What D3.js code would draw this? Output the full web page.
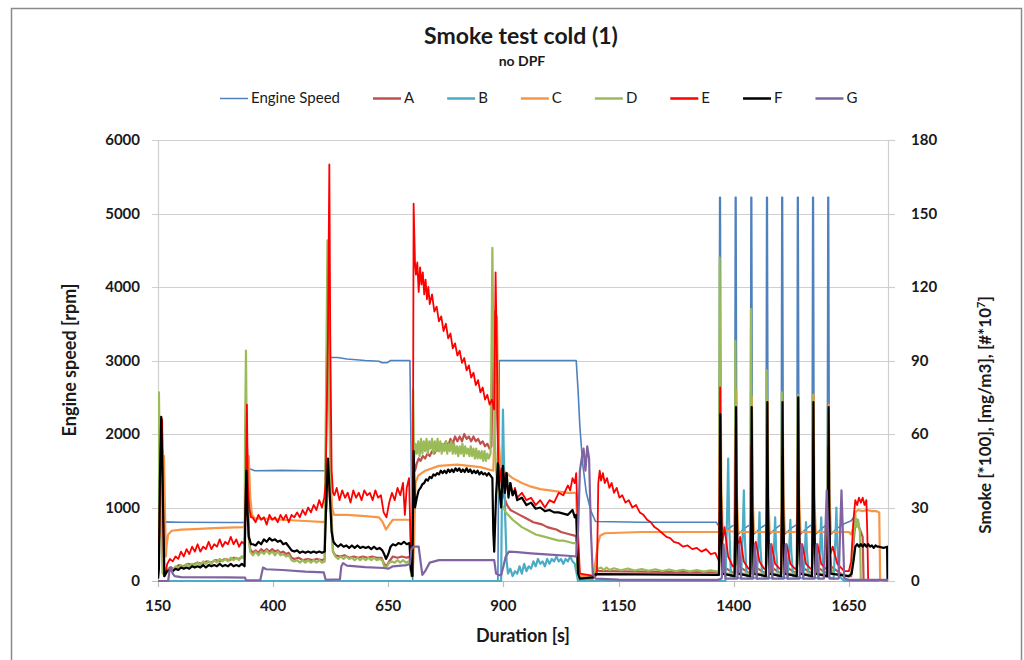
<!DOCTYPE html>
<html><head><meta charset="utf-8">
<script src="https://cdn.jsdelivr.net/npm/d3@7"></script>
<style>
body{margin:0;background:#fff;}
svg{display:block;font-family:Lato,"Liberation Sans",sans-serif;}
</style>
</head><body>
<svg id="chart" width="1024" height="660"></svg>
<script>
// ---------------- DATA ----------------
const chartTitle = "Smoke test cold (1)";
const chartSubtitle = "no DPF";
const xTitle = "Duration [s]";
const yLeftTitle = "Engine speed [rpm]";
const yRightTitle = "Smoke [*100], [mg/m3], [#*10⁷]";
const xTicks = [150, 400, 650, 900, 1150, 1400, 1650];
const yLeftTicks = [0, 1000, 2000, 3000, 4000, 5000, 6000];
const yRightTicks = [0, 30, 60, 90, 120, 150, 180];
const seriesNames = ["Engine Speed", "A", "B", "C", "D", "E", "F", "G"];

// Engine speed [rpm] (left axis) : [time s, rpm]
const engineSpeed = [[150,800],[160,805],[200,800],[300,795],[339,795],[341,1540],[352,1520],[360,1500],[420,1505],[480,1500],[514,1500],[517,3040],[540,3040],[560,3020],[600,3000],[630,2990],[636,2970],[648,2970],[655,3000],[697,3000],[700,1500],[703,0],[888,0],[891,3000],[950,3000],[1058,3000],[1062,2600],[1066,2100],[1072,1600],[1080,1200],[1090,950],[1100,810],[1200,800],[1362,800],[1366,760],
[1368,780],[1369.5,5220],[1371,5220],[1373,620],[1380,660],[1390,720],[1400,760],[1402,770],
[1403.5,5220],[1405,5220],[1407,620],[1414,660],[1424,720],[1434,760],[1436,770],
[1437.5,5220],[1439,5220],[1441,620],[1448,660],[1458,720],[1468,760],[1470,770],
[1471.5,5220],[1473,5220],[1475,620],[1482,660],[1492,720],[1501,760],[1503,770],
[1504.5,5220],[1506,5220],[1508,620],[1515,660],[1525,720],[1535,760],[1537,770],
[1538.5,5220],[1540,5220],[1542,620],[1549,660],[1559,720],[1568,760],[1570,770],
[1571.5,5220],[1573,5220],[1575,620],[1582,660],[1592,720],[1601,760],[1603,770],
[1604.5,5220],[1606,5220],[1608,620],[1615,660],[1625,720],[1640,780],[1655,820],[1660,860]];

// Smoke series (right axis) : [time s, value]
const seriesA = [[150,1],[152,20],[155,60],[158,66],[161,40],[163,2],[166,3],[170,4.5],[176,5.5],[185,5],[195,6.5],[205,6],[215,7],[225,6.5],[235,7.5],[245,7],[255,8],[265,7.5],[275,8.5],[285,8],[295,9],[305,8.5],[315,9.5],[325,9],[335,10],[338,10],
[340,40],[342,62],[344,50],[347,20],[350,13],[356,11.5],[362,12.5],[368,11.5],[374,13],[380,12],[386,13],[392,12],[398,13],[404,12],[410,12.5],[416,11.5],[422,12],[428,11],[434,11.5],[440,9.5],[446,9],[455,9.5],[465,8.5],[475,9],[485,8.5],[495,9],[505,8.5],[512,9],
[515,60],[519,125],[522,80],[526,30],[530,12],[535,10.5],[545,10],[555,10.5],[565,9.5],[575,10],[585,9.5],[595,10],[605,9.5],[615,10],[625,9.5],[635,9.5],[641,7],[646,6],[652,8],[660,10],[670,9.5],[680,10],[690,9.5],[696,10],
[700,3],[703,2],[705,50],[708,45],[712,48],[716,50],[720,49],[725,51],[730,50],[735,52],[740,51],[745,53],[750,52],[755,54],[760,53],[765,56],[770,54],[775,57],[780,55],[785,58],[790,56],[795,59],[800,57],[805,59],[810,57],[815,60],[820,58],[825,59],[830,57],[835,59],[840,57],[845,58],[850,56],[855,57],[860,55],[865,56],[870,54],[874,55],
[877,90],[881,110],[885,80],[889,50],[893,44],[897,38],[902,34],[908,31],[915,29],[925,28],[935,27],[945,26],[955,25],[965,24],[975,23.5],[985,23],[995,22],[1005,21.5],[1015,21],[1025,20],[1035,19.5],[1045,19],[1055,18.5],[1058,18],[1062,3],[1066,1],[1095,1],
[1100,4.5],[1110,4],[1200,3.8],[1300,3.6],[1365,3.5],
[1368,3],[1370,80],[1372,20],[1376,6],[1402,3],[1404,70],[1406,18],[1410,6],[1436,3],[1438,66],[1440,18],[1444,6],[1470,3],[1472,64],[1474,18],[1478,6],[1503,3],[1505,62],[1507,18],[1511,6],[1537,3],[1539,64],[1541,18],[1545,6],[1570,3],[1572,62],[1574,18],[1578,6],[1603,3],[1605,60],[1607,18],[1611,6],[1640,2],[1655,2],
[1660,15],[1664,24],[1668,25],[1672,22],[1676,20],[1680,18],[1682,0]];

const seriesB = [[150,0],[895,0],[897,40],[899,70],[901,50],[904,25],[907,8],[910,3],[915,5],[920,2],[925,4],[930,3],[935,6],[940,3],[945,7],[950,4],[955,6],[960,5],[965,8],[970,6],[975,9],[980,7],[985,8],[990,6],[995,9],[1000,7],[1005,9],[1010,8],[1015,10],[1020,8],[1025,9],[1030,7],[1035,9],[1040,8],[1045,10],[1050,8],[1055,7],[1059,3],[1062,0],
[1382,0],[1386,30],[1388,50],[1390,25],[1394,2],[1416,1],[1420,22],[1422,37],[1424,18],[1428,2],[1450,1],[1454,17],[1456,28],[1458,14],[1462,2],[1484,1],[1488,16],[1490,26],[1492,13],[1496,2],[1517,1],[1521,15],[1523,25],[1525,12],[1529,2],[1551,1],[1555,14],[1557,24],[1559,12],[1563,2],[1584,1],[1588,16],[1590,26],[1592,13],[1596,2],[1617,1],[1621,18],[1623,30],[1625,15],[1629,2],[1640,0],[1735,0]];

const seriesC = [[150,17],[152,16],[156,30],[160,45],[163,51],[165,30],[167,10],[169,15],[172,19],[180,20.5],[200,21],[230,21.2],[260,21.5],[300,21.8],[338,22],
[341,30],[344,45],[347,51],[350,35],[354,27],[360,25.5],[380,25.5],[420,25],[470,24.5],[512,24],
[516,30],[520,40],[524,45],[528,30],[532,27],[560,27],[600,26.5],[630,26],[638,24],[645,21],[652,23],[660,25],[697,25],
[700,10],[703,3],[706,15],[709,40],[715,43],[730,45],[760,47],[800,47.5],[850,46.5],[878,45],
[882,70],[886,108],[889,60],[893,48],[900,45],[920,42],[940,40],[960,38.5],[980,37.5],[1000,37],[1020,36.5],[1040,36],[1058,36],[1062,10],[1066,2],[1095,2],[1100,8],[1105,15],[1110,18.5],[1120,19.5],[1200,20],[1300,20],[1366,20],
[1368,20],[1370,40],[1371.5,90],[1373,40],[1376,21],[1402,20],[1404,40],[1405.5,78],[1407,35],[1410,20],[1436,20],[1438,40],[1439.5,75],[1441,35],[1444,20],[1470,20],[1472,40],[1473.5,74],[1475,35],[1478,20],[1503,20],[1505,40],[1506.5,73],[1508,35],[1511,20],[1537,20],[1539,40],[1540.5,75],[1542,35],[1545,20],[1570,20],[1572,40],[1573.5,76],[1575,35],[1578,20],[1603,20],[1605,40],[1606.5,72],[1608,35],[1611,20],[1650,20],[1655,19],
[1660,22],[1664,28],[1670,29],[1680,28.5],[1690,29],[1700,28.5],[1710,28.5],[1716,28],[1718,0],[1724,0]];

const seriesD = [[150,2],[151,40],[152,77],[154,50],[157,20],[160,3],[165,3],[170,4],[176,5],[182,4.5],[188,6],[194,5],[200,6.5],[206,5.5],[212,7],[218,6],[224,7],[230,6.5],[236,7.5],[242,6.5],[248,8],[254,7],[260,8],[266,7],[272,8.5],[278,7.5],[284,9],[290,8],[296,9],[302,8],[308,9.5],[314,8.5],[320,9.5],[326,8.5],[332,10],[338,9],
[339,60],[341,94],[343,50],[346,20],[350,12],[356,10.5],[362,12],[368,10.5],[374,12],[380,11],[386,12.5],[392,11],[398,12],[404,10.5],[410,12],[416,10.5],[422,11],[428,10],[434,10.5],[440,8.5],[446,8],[452,8.5],[458,7.5],[464,8.5],[470,7.5],[476,8.5],[482,7.5],[488,8.5],[494,7.5],[500,8.5],[506,7.5],[512,8],
[514,60],[518,139],[521,90],[525,30],[530,12],[535,10],[541,9],[547,10],[553,9],[559,10],[565,9],[571,9.5],[577,8.5],[583,9.5],[589,8.5],[595,9.5],[601,8.5],[607,9.5],[613,8.5],[619,9.5],[625,8.5],[631,9],[637,8.5],[641,6],[646,5.5],[652,7.5],[658,8],[664,7.5],[670,8.5],[676,7.5],[682,8.5],[688,7.5],[694,8],[697,8],
[700,2],[702,30],[704,78],[706,50],[709,56],[712,52],[715,57],[718,51],[721,58],[724,52],[727,57],[730,53],[733,58],[736,52],[739,57],[742,54],[745,58],[748,52],[751,57],[754,53],[757,58],[760,53],[763,57],[766,52],[769,56],[772,53],[775,57],[778,52],[781,56],[784,53],[787,57],[790,52],[793,56],[796,52],[799,55],[802,51],[805,55],[808,52],[811,56],[814,51],[817,55],[820,52],[823,54],[826,51],[829,55],[832,51],[835,54],[838,50],[841,54],[844,50],[847,53],[850,50],[853,53],[856,49],[859,53],[862,49],[865,52],[868,50],[872,52],
[874,90],[876,136],[878,100],[881,60],[884,45],[888,38],[892,35],[896,31],[900,30],[905,28],[910,27],[915,26],[920,25],[930,23.5],[940,22],[950,21],[960,20],[970,19],[980,18.5],[990,18],[1000,17.5],[1010,17],[1020,16.5],[1030,16.5],[1040,16],[1050,15.5],[1058,15.5],[1062,2],[1066,1],[1095,1.5],
[1100,6],[1106,5],[1112,5.5],[1118,4.5],[1124,5.5],[1130,4.5],[1140,5.2],[1155,4.4],[1170,5.1],[1185,4.3],[1200,4.9],[1215,4.2],[1230,4.8],[1245,4.1],[1260,4.7],[1275,4],[1290,4.6],[1305,3.9],[1320,4.5],[1335,3.8],[1350,4.4],[1365,3.8],
[1368,4],[1369.5,132],[1371,60],[1374,8],[1380,3],[1402,3],[1403.5,98],[1405,45],[1408,7],[1414,3],[1436,3],[1437.5,111],[1439,50],[1442,7],[1448,3],[1470,3],[1471.5,86],[1473,40],[1476,7],[1482,3],[1503,3],[1504.5,77],[1506,35],[1509,7],[1515,3],[1537,3],[1538.5,76],[1540,35],[1543,7],[1549,3],[1570,3],[1571.5,76],[1573,35],[1576,7],[1582,3],[1603,3],[1604.5,71],[1606,33],[1609,7],[1615,3],[1650,2],[1656,3],
[1660,18],[1664,27],[1667,22],[1670,25],[1674,20],[1676,0]];

const seriesE = [[150,2],[153,20],[156,55],[159,66],[161,30],[163,2],[166,3],[170,7],[176,9],[182,8],[188,10],[194,9],[200,12],[206,10],[212,13],[218,11],[224,14],[230,12],[236,15],[242,12],[248,14],[254,13],[260,16],[266,13],[272,15],[278,14],[284,17],[290,14],[296,16],[302,15],[308,18],[314,15],[320,17],[326,14],[332,16],[338,15],
[340,30],[343,72],[345,40],[348,30],[352,26],[355,26],[362,24],[368,27],[374,25],[380,26],[386,23],[392,27],[398,25],[404,26],[410,24],[416,27],[422,25],[428,27],[434,24],[440,27],[446,26],[452,28],[458,26],[464,29],[470,27],[476,30],[482,28],[488,31],[494,29],[500,33],[506,30],[511,34],
[514,40],[519,100],[522,170],[524,100],[527,45],[530,36],[533,35],[538,38],[544,33],[550,37],[556,34],[562,36],[568,32],[574,37],[580,34],[586,36],[592,33],[598,37],[604,35],[610,36],[616,33],[622,37],[628,34],[634,35],[640,28],[646,26],[652,32],[658,36],[664,33],[670,38],[676,35],[682,40],[686,27],[690,38],[695,42],
[698,20],[700,5],[703,2],[705,154],[708,130],[710,125],[713,130],[716,118],[719,128],[722,121],[725,126],[728,117],[731,123],[734,115],[737,120],[740,113],[745,117],[750,110],[755,112],[760,106],[765,108],[770,102],[775,105],[780,99],[785,101],[790,95],[795,97],[800,92],[805,94],[810,89],[815,91],[820,86],[825,88],[830,83],[835,85],[840,80],[845,82],[850,77],[855,79],[860,74],[865,76],[870,72],[875,74],[880,70],
[883,126],[886,90],[889,45],[891,40],[896,46],[900,38],[905,44],[910,36],[915,40],[920,35],[925,38],[930,34],[940,36],[950,33],[960,34],[970,31],[980,33],[990,30],[1000,33],[1010,32],[1020,36],[1030,35],[1040,39],[1045,37],[1050,42],[1055,40],[1058,44],[1062,20],[1066,3],[1100,2],[1103,3],
[1106,40],[1109,45],[1112,41],[1116,44],[1120,40],[1125,42],[1130,38],[1135,40],[1140,36],[1146,38],[1152,34],[1158,35],[1165,32],[1172,33],[1180,30],[1188,31],[1196,28],[1204,27],[1212,25],[1220,24],[1228,22],[1236,21],[1245,19.5],[1254,18],[1262,17.5],[1270,16],[1280,15.5],[1290,14],[1300,14.5],[1310,13],[1320,13.5],[1330,12],[1340,13],[1350,11],[1360,11.5],[1366,9],
[1368,8],[1370.5,79],[1372,40],[1375,15],[1380,22],[1388,10],[1398,6],[1402,6],[1404.5,63],[1406,30],[1409,12],[1414,18],[1422,8],[1432,5],[1436,5],[1438.5,55],[1440,28],[1443,12],[1448,16],[1456,8],[1466,5],[1470,5],[1472.5,51],[1474,26],[1477,11],[1482,15],[1490,7],[1500,5],[1503,5],[1505.5,51],[1507,26],[1510,11],[1515,15],[1523,7],[1533,5],[1537,5],[1539.5,57],[1541,28],[1544,11],[1549,15],[1557,7],[1567,5],[1570,5],[1572.5,56],[1574,28],[1577,11],[1582,15],[1590,7],[1600,5],[1603,5],[1605.5,55],[1607,28],[1610,11],[1615,14],[1625,7],[1640,4],[1650,4],[1655,8],
[1660,25],[1664,33],[1668,31],[1672,34],[1676,32],[1680,34],[1684,31],[1688,33],[1690,20],[1692,0]];

const seriesF = [[150,1],[152,5],[154,40],[157,67],[159,50],[162,20],[164,2],[167,3],[170,4],[176,4.5],[182,4],[188,5],[194,4.5],[200,5.5],[206,5],[212,5.5],[218,5],[224,6],[230,5.5],[236,6],[242,5.5],[248,6.5],[254,5.5],[260,6.5],[266,6],[272,6.5],[278,6],[284,7],[290,6],[296,6.5],[302,6],[308,7],[314,6],[320,6.5],[326,6],[332,7],[338,6],
[340,30],[342,45],[344,30],[347,18],[352,15],[356,15],[362,14.5],[368,16],[374,15],[380,17],[386,16],[392,17.5],[398,16.5],[404,17],[410,16],[416,16.5],[422,15],[428,15.5],[434,14],[440,12.5],[446,12],[452,12.5],[458,11.5],[464,12],[470,11.5],[476,12],[482,11.5],[488,12],[494,11.5],[500,12],[506,11.5],[512,12],
[515,30],[519,50],[523,35],[527,20],[531,16],[535,15],[541,14],[547,15],[553,14],[559,14.5],[565,13.5],[571,14.5],[577,13.5],[583,14.5],[589,13.5],[595,14],[601,13.5],[607,14],[613,13],[619,14],[625,13],[631,13.5],[637,12.5],[641,11],[645,9],[650,11],[655,14],[660,15],[666,14.5],[672,15.5],[678,15],[684,16],[690,15],[696,15.5],
[699,5],[702,2],[705,53],[708,30],[712,34],[716,37],[720,38],[724,39.5],[728,40],[732,41.5],[736,41],[740,42.5],[744,42],[748,43.5],[752,43],[756,44],[760,43.5],[764,45],[768,44],[772,45],[776,44],[780,45.5],[784,44.5],[788,45.5],[792,44.5],[796,46],[800,45],[804,46],[808,44.5],[812,45.5],[816,44.5],[820,46],[824,44.5],[828,45.5],[832,44],[836,45],[840,44],[844,45],[848,43.5],[852,44.5],[856,43.5],[860,44],[864,43],[868,44],[872,43],[876,42],[878,20],[880,12],
[884,35],[888,48],[891,38],[895,30],[899,47],[903,36],[907,44],[911,34],[915,40],[920,35],[925,37],[930,33],[940,34],[950,31],[960,32],[970,29.5],[980,30],[990,28.5],[1000,29],[1010,28],[1020,28],[1030,27.5],[1040,27],[1050,29],[1055,26],[1058,27],[1062,3],[1066,1],[1095,1.5],[1100,2.8],[1365,2.5],
[1368,2.5],[1370,30],[1371,68],[1372.5,30],[1375,3],[1402,2],[1404,30],[1405,71],[1406.5,30],[1409,3],[1436,2],[1438,30],[1439,71],[1440.5,30],[1443,3],[1470,2],[1472,30],[1473,73],[1474.5,30],[1477,3],[1503,2],[1505,30],[1506,73],[1507.5,30],[1510,3],[1537,2],[1539,30],[1540,75],[1541.5,30],[1544,3],[1570,2],[1572,30],[1573,73],[1574.5,30],[1577,3],[1603,2],[1605,30],[1606,71],[1607.5,30],[1610,3],[1650,2],[1656,3],
[1660,8],[1664,14],[1668,15],[1672,14],[1676,15],[1680,14],[1684,15],[1688,14],[1692,15],[1696,14],[1700,14.5],[1704,13.5],[1708,14.5],[1712,14],[1716,14],[1725,13.5],[1733,14],[1734,0]];

const seriesG = [[150,0],[172,0],[175,4],[178,5.7],[182,3],[186,2],[200,1.6],[300,1.5],[339,1.4],[341,0.3],[372,0.3],[378,5.5],[385,4.8],[420,4.5],[470,3.8],[510,3.5],[514,0.5],[545,0.7],[548,6],[552,7.3],[560,6.3],[600,5.7],[640,5.3],[650,5],[660,6],[690,6.5],[697,7],[700,13],[705,14],[716,14],[720,8],[724,2.5],[730,4],[740,7.5],[760,8.5],[880,8.5],[884,3],[890,2.4],[895,2.4],[900,6],[905,10],[912,12],[930,11.8],[960,11.3],[1000,10.8],[1040,10.3],[1058,10],[1062,20],[1066,45],[1070,50],[1074,54],[1078,45],[1082,55],[1086,50],[1090,20],[1094,3],[1100,1],[1150,0.6],[1366,0.5],
[1374,1],[1376,8],[1378,15],[1380,8],[1382,1],[1408,1],[1410,8],[1412,15],[1414,8],[1416,1],[1442,1],[1444,8],[1446,15],[1448,8],[1450,1],[1476,1],[1478,8],[1480,15],[1482,8],[1484,1],[1509,1],[1511,8],[1513,15],[1515,8],[1517,1],[1543,1],[1545,8],[1547,15],[1549,8],[1551,1],[1576,1],[1578,8],[1580,15],[1582,8],[1584,1],[1596,1],[1599,20],[1602,37],[1605,20],[1608,1],[1628,1],[1631,20],[1634,37],[1637,20],[1640,1],[1650,0.5],[1735,0.5]];

// ---------------- STYLE ----------------
const colors = {"Engine Speed":"#4F81BD", A:"#C0504D", B:"#4BACC6", C:"#F79646", D:"#9BBB59", E:"#FF0000", F:"#000000", G:"#8064A2"};
const W = 1024, H = 660;
const M = {left:158, right:888, top:140, bottom:581};

const svg = d3.select("#chart");
svg.append("rect").attr("x",0).attr("y",0).attr("width",W).attr("height",H).attr("fill","#fff");
svg.append("rect").attr("x",11.5).attr("y",8.5).attr("width",1010).attr("height",680)
  .attr("fill","#fff").attr("stroke","#8a8a8a").attr("stroke-width",1.5);

const x = d3.scaleLinear().domain([150, 1735]).range([M.left, M.right]);
const yL = d3.scaleLinear().domain([0, 6000]).range([M.bottom, M.top]);
const yR = d3.scaleLinear().domain([0, 180]).range([M.bottom, M.top]);

// gridlines
svg.append("g").selectAll("line").data(yLeftTicks).join("line")
  .attr("x1",M.left-6).attr("x2",M.right).attr("y1",d=>Math.round(yL(d))+0.5).attr("y2",d=>Math.round(yL(d))+0.5)
  .attr("stroke",d=>d===0?"#bdbdbd":"#cfcfcf").attr("stroke-width",1.2);
// right axis line + ticks
svg.append("line").attr("x1",M.right+0.5).attr("x2",M.right+0.5).attr("y1",M.top).attr("y2",M.bottom).attr("stroke","#cfcfcf").attr("stroke-width",1.2);
svg.append("g").selectAll("line").data(yRightTicks).join("line")
  .attr("x1",M.right).attr("x2",M.right+7).attr("y1",d=>Math.round(yR(d))+0.5).attr("y2",d=>Math.round(yR(d))+0.5)
  .attr("stroke","#cfcfcf").attr("stroke-width",1.2);
// left axis line
svg.append("line").attr("x1",M.left+0.5).attr("x2",M.left+0.5).attr("y1",M.top).attr("y2",M.bottom).attr("stroke","#cfcfcf").attr("stroke-width",1.2);
// x ticks
svg.append("g").selectAll("line").data(xTicks).join("line")
  .attr("x1",d=>Math.round(x(d))+0.5).attr("x2",d=>Math.round(x(d))+0.5).attr("y1",M.bottom).attr("y2",M.bottom+6)
  .attr("stroke","#bdbdbd").attr("stroke-width",1.2);

// clip
svg.append("clipPath").attr("id","plotclip").append("rect")
  .attr("x",M.left).attr("y",M.top-30).attr("width",M.right-M.left).attr("height",M.bottom-M.top+31);

const plot = svg.append("g").attr("clip-path","url(#plotclip)");
const lineL = d3.line().x(d=>x(d[0])).y(d=>yL(d[1]));
const lineR = d3.line().x(d=>x(d[0])).y(d=>yR(d[1]));

plot.append("path").datum(engineSpeed).attr("d",lineL).attr("fill","none")
  .attr("stroke",colors["Engine Speed"]).attr("stroke-width",1.6).attr("stroke-linejoin","round");
const smoke = [["A",seriesA],["B",seriesB],["C",seriesC],["D",seriesD],["E",seriesE],["F",seriesF],["G",seriesG]];
smoke.forEach(([name,data])=>{
  plot.append("path").datum(data).attr("d",lineR).attr("fill","none")
    .attr("stroke",colors[name]).attr("stroke-width",name==="E"?1.8:2.2).attr("stroke-linejoin","round");
});

// tick labels
const tickFont = {size:"15px", weight:"bold", fill:"#1a1a1a"};
svg.append("g").selectAll("text").data(yLeftTicks).join("text")
  .attr("x",140).attr("y",d=>yL(d)+5).attr("text-anchor","end")
  .attr("font-size",tickFont.size).attr("font-weight",tickFont.weight).attr("fill",tickFont.fill).text(d=>d);
svg.append("g").selectAll("text").data(yRightTicks).join("text")
  .attr("x",911).attr("y",d=>yR(d)+5).attr("text-anchor","start")
  .attr("font-size",tickFont.size).attr("font-weight",tickFont.weight).attr("fill",tickFont.fill).text(d=>d);
svg.append("g").selectAll("text").data(xTicks).join("text")
  .attr("x",d=>x(d)).attr("y",611).attr("text-anchor","middle")
  .attr("font-size",tickFont.size).attr("font-weight",tickFont.weight).attr("fill",tickFont.fill).text(d=>d);

// titles
svg.append("text").attr("x",521).attr("y",44).attr("text-anchor","middle")
  .attr("font-size","23px").attr("font-weight","bold").attr("fill","#1a1a1a").text(chartTitle);
svg.append("text").attr("x",522).attr("y",66).attr("text-anchor","middle")
  .attr("font-size","14px").attr("font-weight","bold").attr("fill","#1a1a1a").text(chartSubtitle);
svg.append("text").attr("x",523).attr("y",642).attr("text-anchor","middle")
  .attr("font-size","18px").attr("font-weight","bold").attr("fill","#1a1a1a").text(xTitle);
svg.append("text").attr("transform","translate(76,360) rotate(-90)").attr("text-anchor","middle")
  .attr("font-size","18px").attr("font-weight","bold").attr("fill","#1a1a1a").text(yLeftTitle);
const rt = svg.append("text").attr("transform","translate(991,415) rotate(-90)").attr("text-anchor","middle")
  .attr("font-size","17px").attr("font-weight","bold").attr("fill","#1a1a1a");
rt.append("tspan").text("Smoke [*100], [mg/m3], [#*10");
rt.append("tspan").attr("dy",-6).attr("font-size","11px").text("7");
rt.append("tspan").attr("dy",6).text("]");

// legend
const lg = svg.append("g");
let lx = 220;
seriesNames.forEach(name=>{
  lg.append("line").attr("x1",lx).attr("x2",lx+28).attr("y1",98.5).attr("y2",98.5)
    .attr("stroke",colors[name]).attr("stroke-width",name==="Engine Speed"?1.5:2.5);
  const t = lg.append("text").attr("x",lx+31).attr("y",103).attr("font-size","15px").attr("fill","#1a1a1a").text(name);
  lx += 31 + t.node().getComputedTextLength() + 33;
});
</script>
</body></html>
